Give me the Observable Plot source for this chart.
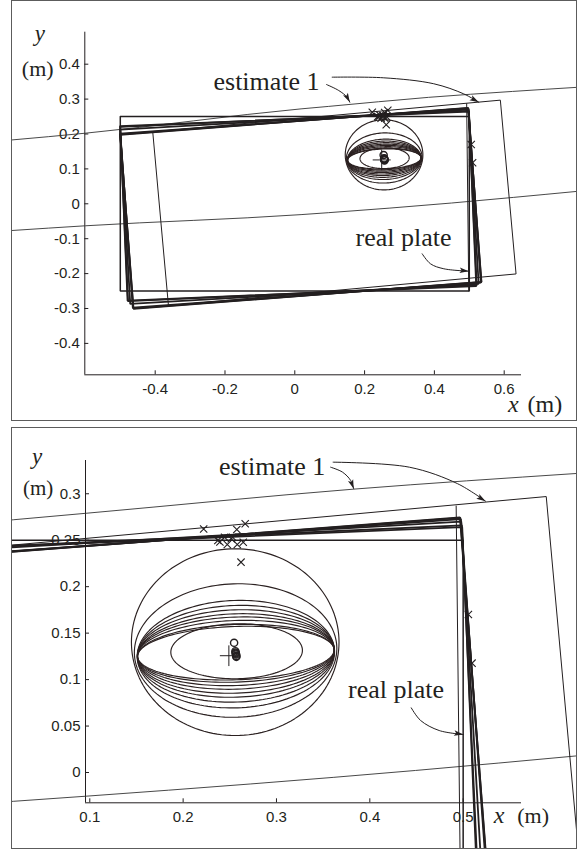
<!DOCTYPE html>
<html><head><meta charset="utf-8">
<script src="https://cdn.jsdelivr.net/npm/d3@7"></script>
<script src="https://cdn.jsdelivr.net/npm/@observablehq/plot@0.6"></script>
<style>
html,body{margin:0;padding:0;background:#fff;}
#wrap{position:relative;width:580px;height:851px;overflow:hidden;background:#fff;}
.panel{position:absolute;border:1.5px solid #5c5c5c;overflow:hidden;background:#fff;}
.panel > svg{position:absolute;max-width:none !important;width:580px;}
</style></head><body><div id="wrap">
<div id="p1" class="panel" style="left:11px;top:0px;width:564px;height:419px"></div>
<div id="p2" class="panel" style="left:11px;top:427px;width:564px;height:420px"></div>
</div>
<script>
const ink = "#231f20";

// ---- real plate outline (m)
const realPlateX = [-0.5, 0.5, 0.5, -0.5, -0.5];
const realPlateY = [0.25, 0.25, -0.25, -0.25, 0.25];

// ---- "estimate 1" plate outline (m)
const est1X = [-0.407, 0.589, 0.634, -0.362, -0.407];
const est1Y = [0.206, 0.297, -0.201, -0.292, 0.206];

// ---- extra thin edge near the right side
const edgeX = [0.4925, 0.4985];
const edgeY = [0.2868, -0.25];

// ---- later plate pose estimates: centre (m) and heading (deg)
const poseCx = [0.0172, 0.0171, 0.0167, 0.0132, 0.0104, 0.0099];
const poseCy = [-0.0131, -0.0128, -0.0123, -0.0084, -0.0064, -0.0067];
const poseDeg = [4.4, 4.3, 4.1, 3.3, 2.6, 2.4];
const plateW = 1.0, plateH = 0.5;

// ---- estimate-1 boundary curves
const arcUpX = [-0.81, -0.6, 0.018, 0.096, 0.383, 0.624, 0.813];
const arcUpY = [0.183, 0.2023, 0.272, 0.279, 0.305, 0.322, 0.334];
const arcLoX = [-0.81, -0.6, 0.018, 0.096, 0.449, 0.626, 0.813];
const arcLoY = [-0.0765, -0.063, -0.031, -0.0255, 0.0022, 0.0183, 0.036];

// ---- uncertainty ellipses: centre, semi-axes, tilt (deg)
const ellCx  = [0.2558, 0.2562, 0.2565, 0.2565, 0.2565, 0.2565, 0.2565, 0.2565, 0.2565, 0.2565, 0.2573];
const ellCy  = [0.1403, 0.1313, 0.1274, 0.1278, 0.1281, 0.1281, 0.1285, 0.1286, 0.1283, 0.1285, 0.1305];
const ellRx  = [0.1112, 0.1085, 0.1058, 0.1056, 0.1056, 0.1055, 0.1055, 0.1054, 0.1054, 0.1053, 0.0705];
const ellRy  = [0.1005, 0.0718, 0.0578, 0.0520, 0.0470, 0.0427, 0.0388, 0.0350, 0.0310, 0.0287, 0.0296];
const ellDeg = [0, 2, 2, 2, 2, 2, 2, 2, 2, 2, 1];

// ---- contact points (x markers)
const contactX = [0.222, 0.2665, 0.2575, 0.262, 0.2372, 0.2444, 0.2473, 0.258, 0.2644, 0.2516, 0.2394, 0.253, 0.5056, 0.5095];
const contactY = [0.262, 0.2677, 0.2615, 0.2264, 0.2497, 0.2533, 0.2454, 0.2454, 0.2479, 0.2516, 0.248, 0.2533, 0.170, 0.1177];

// ---- estimated centres (o) and true centre (+)
const centreX = [0.2546, 0.256, 0.2562, 0.2565, 0.2567, 0.257, 0.257];
const centreY = [0.1396, 0.1305, 0.129, 0.128, 0.127, 0.1255, 0.1245];
const trueCentreX = [0.249];
const trueCentreY = [0.1257];

// ---- ticks
const xTicksTop = [-0.4, -0.2, 0, 0.2, 0.4, 0.6];
const xTickLabelsTop = ["-0.4", "-0.2", "0", "0.2", "0.4", "0.6"];
const yTicksTop = [-0.4, -0.3, -0.2, -0.1, 0, 0.1, 0.2, 0.3, 0.4];
const yTickLabelsTop = ["-0.4", "-0.3", "-0.2", "-0.1", "0", "0.1", "0.2", "0.3", "0.4"];
const xTicksBot = [0.1, 0.2, 0.3, 0.4, 0.5];
const xTickLabelsBot = ["0.1", "0.2", "0.3", "0.4", "0.5"];
const yTicksBot = [0, 0.05, 0.1, 0.15, 0.2, 0.25, 0.3];
const yTickLabelsBot = ["0", "0.05", "0.1", "0.15", "0.2", "0.25", "0.3"];

// ---- annotations (per panel, in data units of that panel)
const annTopText = ["estimate 1", "real plate"];
const annTopTextX = [-0.233, 0.1739];
const annTopTextY = [0.3275, -0.1223];
const annTopArrowX = [[0.0908, 0.126, 0.150, 0.1576], [0.1072, 0.255, 0.398, 0.484, 0.5272], [0.365, 0.3888, 0.427, 0.4986]];
const annTopArrowY = [[0.3418, 0.3246, 0.3054, 0.2911], [0.3628, 0.361, 0.344, 0.315, 0.2911], [-0.1433, -0.1719, -0.1862, -0.1931]];

const annBotText = ["estimate 1", "real plate"];
const annBotTextX = [0.2385, 0.3767];
const annBotTextY = [0.3197, 0.080];
const annBotArrowX = [[0.358, 0.3707, 0.3795, 0.3827], [0.3607, 0.4424, 0.4941, 0.524], [0.4444, 0.4544, 0.4743, 0.5001]];
const annBotArrowY = [[0.3286, 0.3233, 0.3143, 0.3054], [0.334, 0.3286, 0.3108, 0.292], [0.0696, 0.056, 0.0452, 0.0409]];

// ---------- geometry helpers ----------
function pts(xs, ys, id) { return xs.map((x, i) => ({id, x, y: ys[i]})); }
function ellipsePts(i) {
  const a = ellDeg[i] * Math.PI / 180, out = [];
  for (let k = 0; k <= 144; k++) {
    const t = 2 * Math.PI * k / 144, ex = ellRx[i] * Math.cos(t), ey = ellRy[i] * Math.sin(t);
    out.push({id: i, x: ellCx[i] + ex * Math.cos(a) - ey * Math.sin(a), y: ellCy[i] + ex * Math.sin(a) + ey * Math.cos(a)});
  }
  return out;
}
function posePts(i) {
  const a = poseDeg[i] * Math.PI / 180, hw = plateW / 2, hh = plateH / 2;
  return [[-hw, hh], [hw, hh], [hw, -hh], [-hw, -hh], [-hw, hh]].map(([u, v]) =>
    ({id: i, x: poseCx[i] + u * Math.cos(a) - v * Math.sin(a), y: poseCy[i] + u * Math.sin(a) + v * Math.cos(a)}));
}
const headSymbol = {draw(ctx, size) {
  const L = Math.sqrt(size) * 1.3, w = L * 0.3;
  ctx.moveTo(0, 0); ctx.lineTo(w, L); ctx.lineTo(0, L * 0.78); ctx.lineTo(-w, L); ctx.closePath();
}};
const plusSymbol = {draw(ctx, size) {
  const r = Math.sqrt(size / Math.PI);
  ctx.moveTo(-r, 0); ctx.lineTo(r, 0); ctx.moveTo(0, -r * 1.15); ctx.lineTo(0, r * 1.15);
}};

const ellData = ellCx.flatMap((_, i) => ellipsePts(i));
const poseData = poseCx.flatMap((_, i) => posePts(i));

function drawPanel(el, cfg) {
  const fh = cfg.h - cfg.mT - cfg.mB, fw = 580 - cfg.mL - cfg.mR;
  const xl = new Map(cfg.xt.map((v, i) => [v, cfg.xtl[i]]));
  const yl = new Map(cfg.yt.map((v, i) => [v, cfg.ytl[i]]));
  const serif = "'Liberation Serif', 'Times New Roman', serif";
  const arrowMarks = cfg.arrowX.flatMap((xs, j) => {
    const ys = cfg.arrowY[j], n = xs.length;
    const ang = Math.atan2(xs[n - 1] - xs[n - 2], ys[n - 1] - ys[n - 2]) * 180 / Math.PI;
    return [
      Plot.line(pts(xs, ys, j), {x: "x", y: "y", curve: "catmull-rom", stroke: ink, strokeWidth: 1}),
      Plot.dot([{x: xs[n - 1], y: ys[n - 1]}], {x: "x", y: "y", symbol: headSymbol, r: 4, rotate: ang, fill: ink, stroke: "none"})
    ];
  });
  const chart = Plot.plot({
    width: 580, height: cfg.h,
    marginLeft: cfg.mL, marginRight: cfg.mR, marginTop: cfg.mT, marginBottom: cfg.mB,
    x: {domain: cfg.xd}, y: {domain: cfg.yd},
    style: {background: "transparent", fontFamily: "'Liberation Sans', Arial, sans-serif", fontSize: "15px", color: ink, maxWidth: "none"},
    marks: [
      Plot.axisX(cfg.xt, {tickSize: 0, tickPadding: 9, tickFormat: d => xl.get(d), fontSize: 15, label: null}),
      Plot.axisY(cfg.yt, {tickSize: 0, tickPadding: 5, tickFormat: d => yl.get(d), fontSize: 15, label: null}),
      Plot.ruleX([cfg.xd[0]], {stroke: ink, strokeWidth: 1}),
      Plot.ruleY([cfg.yd[0]], {stroke: ink, strokeWidth: 1}),
      Plot.ruleX(cfg.xt, {insetTop: fh - 4, stroke: ink, strokeWidth: 1}),
      Plot.ruleY(cfg.yt, {insetRight: fw - 4, stroke: ink, strokeWidth: 1}),
      // axis titles
      Plot.text(["y"], {frameAnchor: "top-left", dx: cfg.yLab[0], dy: cfg.yLab[1], textAnchor: "start", lineAnchor: "bottom", fontFamily: serif, fontStyle: "italic", fontSize: 23, fill: ink}),
      Plot.text(["(m)"], {frameAnchor: "top-left", dx: cfg.yLab[2], dy: cfg.yLab[3], textAnchor: "start", lineAnchor: "bottom", fontFamily: serif, fontSize: cfg.yLab[4], fill: ink}),
      Plot.text(["x"], {frameAnchor: "bottom-right", dx: cfg.xLab[0], dy: cfg.xLab[1], textAnchor: "start", lineAnchor: "bottom", fontFamily: serif, fontStyle: "italic", fontSize: 24, fill: ink}),
      Plot.text(["(m)"], {frameAnchor: "bottom-right", dx: cfg.xLab[2], dy: cfg.xLab[3], textAnchor: "start", lineAnchor: "bottom", fontFamily: serif, fontSize: cfg.xLab[4], fill: ink}),
      // estimate-1 boundary curves
      Plot.line(pts(arcUpX, arcUpY, 0), {x: "x", y: "y", curve: "monotone-x", stroke: "#333", strokeWidth: 0.9}),
      Plot.line(pts(arcLoX, arcLoY, 1), {x: "x", y: "y", curve: "monotone-x", stroke: "#333", strokeWidth: 0.9}),
      // estimate 1 plate and extra edge
      Plot.line(pts(est1X, est1Y, 0), {x: "x", y: "y", stroke: ink, strokeWidth: 1}),
      Plot.line(pts(edgeX, edgeY, 0), {x: "x", y: "y", stroke: ink, strokeWidth: 1}),
      // real plate
      Plot.line(pts(realPlateX, realPlateY, 0), {x: "x", y: "y", stroke: ink, strokeWidth: 1.5, strokeLinejoin: "miter"}),
      // pose estimates
      Plot.line(poseData, {x: "x", y: "y", z: "id", stroke: ink, strokeWidth: 1.8, strokeLinejoin: "miter"}),
      // ellipses
      Plot.line(ellData, {x: "x", y: "y", z: "id", stroke: "#2b2121", strokeWidth: 1.15}),
      // markers
      Plot.dot(pts(contactX, contactY, 0), {x: "x", y: "y", symbol: "times", r: 3.4, stroke: ink, strokeWidth: 1.1, fill: "none"}),
      Plot.dot(pts(centreX, centreY, 0), {x: "x", y: "y", symbol: "circle", r: 3.6, stroke: ink, strokeWidth: 1.4, fill: "none"}),
      Plot.dot(pts(trueCentreX, trueCentreY, 0), {x: "x", y: "y", symbol: plusSymbol, r: 9, stroke: ink, strokeWidth: 1, fill: "none"}),
      // annotations
      Plot.text(cfg.text, {x: (d, i) => cfg.textX[i], y: (d, i) => cfg.textY[i], text: d => d, textAnchor: "start", lineAnchor: "bottom", fontFamily: serif, fontSize: 26, fill: ink}),
      ...arrowMarks
    ]
  });
  chart.style.left = "-12.5px";
  chart.style.top = cfg.top + "px";
  el.appendChild(chart);
}

drawPanel(document.getElementById("p1"), {
  h: 424, top: -1.5, mL: 84.3, mR: 59, mT: 31.7, mB: 49.7,
  xd: [-0.6017, 0.6496], yd: [-0.49, 0.4917],
  xt: xTicksTop, xtl: xTickLabelsTop, yt: yTicksTop, ytl: yTickLabelsTop,
  yLab: [-50, 8.5, -63, 44, 22], xLab: [-13.5, 37.5, 6, 37.5, 24],
  text: annTopText, textX: annTopTextX, textY: annTopTextY,
  arrowX: annTopArrowX, arrowY: annTopArrowY
});
drawPanel(document.getElementById("p2"), {
  h: 427, top: -4.5, mL: 85, mR: 59, mT: 36, mB: 48.7,
  xd: [0.0954, 0.5625], yd: [-0.0326, 0.3358],
  xt: xTicksBot, xtl: xTickLabelsBot, yt: yTicksBot, ytl: yTickLabelsBot,
  yLab: [-53.5, 3.5, -62.5, 34, 21], xLab: [-27.7, 19.7, -4.3, 19.7, 22],
  text: annBotText, textX: annBotTextX, textY: annBotTextY,
  arrowX: annBotArrowX, arrowY: annBotArrowY
});
</script></body></html>
